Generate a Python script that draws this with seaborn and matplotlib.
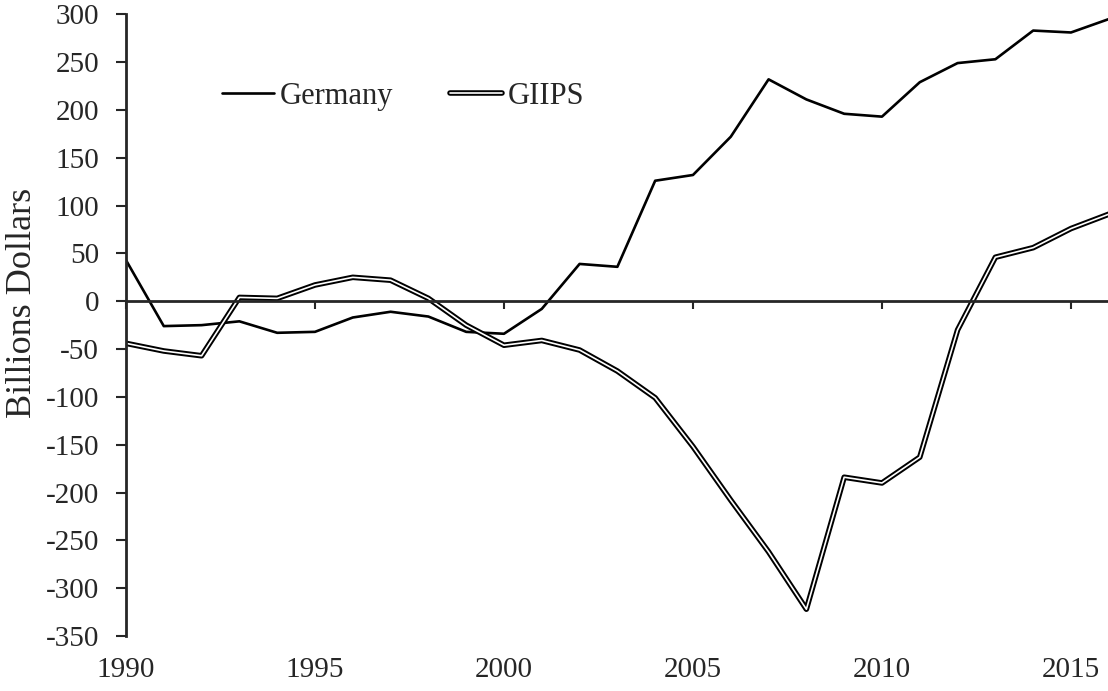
import pandas as pd
import seaborn as sns
import matplotlib.pyplot as plt
import matplotlib.patheffects as pe

# Current account balances, billions of dollars
years = list(range(1990, 2017))
germany = [43, -26, -25, -21, -33, -32, -17, -11, -16, -32,
           -34, -8, 39, 36, 126, 132, 172, 232, 211, 196,
           193, 229, 249, 253, 283, 281, 295]
giips = [-44, -52, -57, 4, 3, 17, 25, 22, 3, -25,
         -46, -41, -51, -73, -101, -152, -208, -262, -322, -184,
         -190, -163, -30, 46, 56, 76, 91]
xticks = [1990, 1995, 2000, 2005, 2010, 2015]
yticks = list(range(-350, 301, 50))

df = pd.DataFrame({'Year': years, 'Germany': germany, 'GIIPS': giips})

sns.set_style('white')
plt.rcParams['font.family'] = ['Liberation Serif', 'DejaVu Serif']

fig = plt.figure(figsize=(11.08, 6.91), dpi=100)
ax = fig.add_axes([0.1137, 0.0796, 0.887, 0.8997])

sns.lineplot(data=df, x='Year', y='Germany', ax=ax, color='black',
             linewidth=1.9, label='Germany')
# double line: thick black stroke with thin white core
sns.lineplot(data=df, x='Year', y='GIIPS', ax=ax, color='white',
             linewidth=1.2, label='GIIPS',
             path_effects=[pe.Stroke(linewidth=4.0, foreground='black'), pe.Normal()])

ax.set_xlim(1990, 2016)
ax.set_ylim(-350, 300)
ax.set_yticks(yticks)
ax.set_yticklabels([str(v) for v in yticks])
ax.tick_params(axis='y', direction='out', length=7, width=1.5, pad=12.5,
               labelsize=21, left=True)

# x axis line sits at zero, labels stay at the bottom
for s in ['top', 'right']:
    ax.spines[s].set_visible(False)
ax.spines['left'].set_linewidth(2.0)
ax.spines['bottom'].set_position(('data', 0))
ax.spines['bottom'].set_linewidth(2.0)
ax.set_xticks(xticks)
ax.tick_params(axis='x', direction='out', length=6, width=1.5,
               labelbottom=False, bottom=True)

sec = ax.secondary_xaxis('bottom')
sec.set_xticks(xticks)
sec.set_xticklabels([str(v) for v in xticks])
sec.spines['bottom'].set_visible(False)
sec.tick_params(length=0, pad=15, labelsize=21)

ax.set_xlabel('')
ax.set_ylabel('Billions Dollars', fontsize=26)
ax.yaxis.set_label_coords(-0.089, 0.535)

ax.legend(loc='center left', bbox_to_anchor=(0.2, 0.861),
          bbox_transform=fig.transFigure, ncol=2, frameon=False,
          fontsize=22, handlelength=1.7, handletextpad=0.2,
          columnspacing=1.85, borderpad=0, borderaxespad=0)

plt.savefig('out.png', dpi=100)
